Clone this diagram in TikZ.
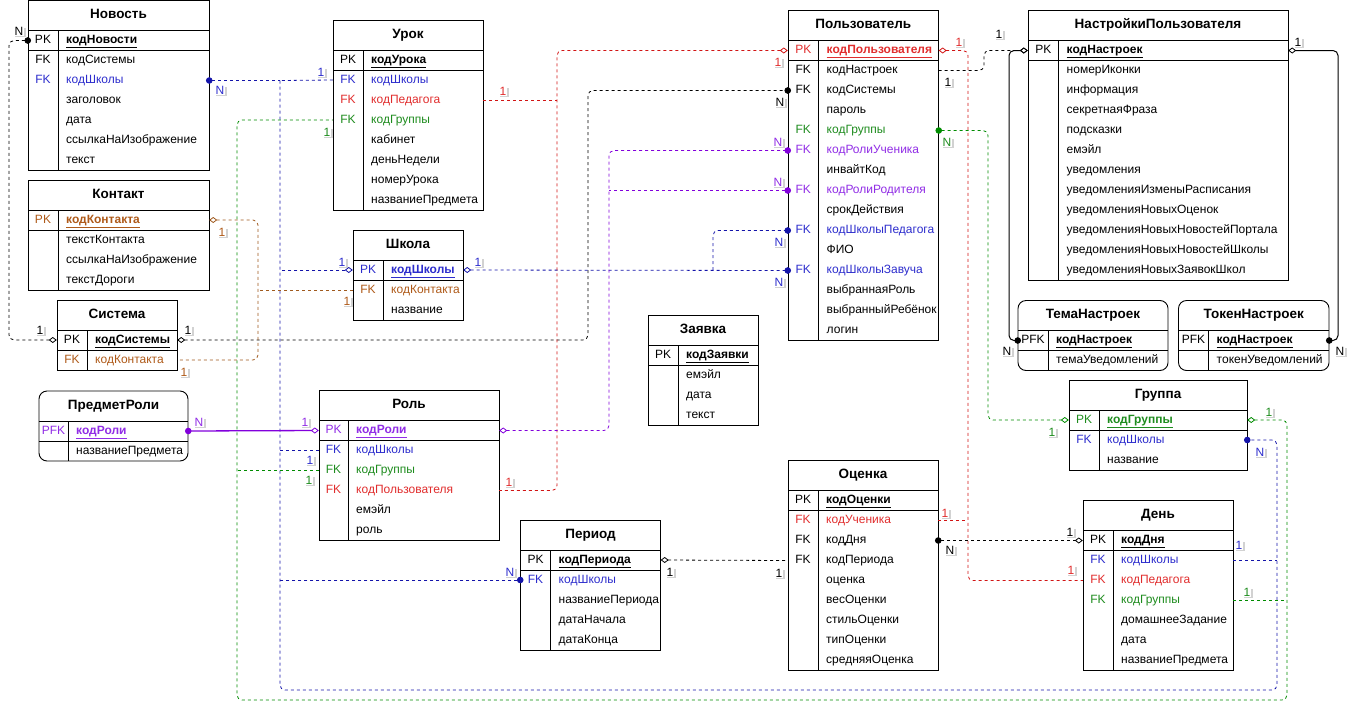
\documentclass[tikz,border=0pt]{standalone}
\usepackage{fontspec}
\setmainfont{Liberation Sans}
\usetikzlibrary{arrows.meta,calc,shadows}

% text colours
\definecolor{cBlueT}{RGB}{45,45,205}
\definecolor{cRedT}{RGB}{225,45,45}
\definecolor{cGreenT}{RGB}{30,140,30}
\definecolor{cPurpleT}{RGB}{145,45,230}
\definecolor{cBrownT}{RGB}{175,90,25}
% connector colours
\definecolor{cBlueL}{RGB}{20,20,170}
\definecolor{cRedL}{RGB}{210,20,20}
\definecolor{cGreenL}{RGB}{0,140,0}
\definecolor{cPurpleL}{RGB}{130,0,220}
\definecolor{cBrownL}{RGB}{160,90,30}

\tikzset{
  erframe/.style={draw=black, line width=0.9pt},
  ertitle/.style={font=\fontsize{13.5}{16}\selectfont\bfseries, inner sep=0pt, text height=9.7pt, text depth=2.8pt},
  errow/.style={inner sep=0pt, minimum height=20pt},
  erkey/.style={font=\fontsize{12}{14}\selectfont, inner sep=0pt, text height=8.6pt, text depth=2.5pt},
  erattr/.style={font=\fontsize{12}{14}\selectfont, inner sep=0pt, anchor=west, text height=8.6pt, text depth=2.5pt},
  rel/.style={line width=0.8pt, dash pattern=on 3pt off 3pt, rounded corners=5pt},
  relK/.style={rel, draw=black},
  relB/.style={rel, draw=cBlueL},
  relR/.style={rel, draw=cRedL},
  relG/.style={rel, draw=cGreenL},
  relP/.style={rel, draw=cPurpleL},
  relO/.style={rel, draw=cBrownL},
  solK/.style={line width=1pt, rounded corners=5pt, draw=black},
  solP/.style={line width=1.3pt, draw=cPurpleL},
  dotdia/.style={arrows={Circle[length=6.5pt]-Diamond[open,length=8pt,width=6pt,line width=0.8pt]}, shorten <=-3.2pt},
  diadot/.style={arrows={Diamond[open,length=8pt,width=6pt,line width=0.8pt]-Circle[length=6.5pt]}, shorten >=-3.2pt},
  diaend/.style={arrows={-Diamond[open,length=8pt,width=6pt,line width=0.8pt]}},
  diastart/.style={arrows={Diamond[open,length=8pt,width=6pt,line width=0.8pt]-}},
  dotstart/.style={arrows={Circle[length=6.5pt]-}, shorten <=-3.2pt},
  dotend/.style={arrows={-Circle[length=6.5pt]}, shorten >=-3.2pt},
  lbl/.style={font=\fontsize{12}{14}\selectfont, inner sep=0.7pt, fill=white,
    drop shadow={shadow xshift=1.5pt, shadow yshift=-1.5pt, opacity=0.35, fill=gray}},
}

% #1 id, #2 left, #3 top, #4 width, #5 key column width, #6 title, #7 corner radius, #8 rows key/name/colour/flag
\newcommand\ertable[8]{%
  \node[ertitle] (#1) at ({#2+#4/2},{#3+15}) {#6};
  \foreach \kk/\nn/\cc/\ff [count=\ii] in {#8} {
    \node[errow, minimum width=#4] (#1-\ii) at ({#2+#4/2},{#3+30+(\ii-1)*20+10}) {};
    \node[erkey, text=\cc] (#1-\ii-k) at ({#2+#5/2},{#3+30+(\ii-1)*20+10}) {\kk};
    \node[erattr, text=\cc] (#1-\ii-a) at ({#2+#5+8},{#3+30+(\ii-1)*20+10})
      {\if p\ff\underline{\textbf{\nn}}\else\nn\fi};
    \xdef\errows{\ii}
  }
  \draw[erframe, rounded corners=#7] (#2,#3) rectangle ({#2+#4},{#3+30+\errows*20});
  \draw[erframe] (#2,{#3+30}) -- ({#2+#4},{#3+30});
  \draw[erframe] (#2,{#3+50}) -- ({#2+#4},{#3+50});
  \draw[erframe] ({#2+#5},{#3+30}) -- ({#2+#5},{#3+30+\errows*20});
}

\begin{document}
\begin{tikzpicture}[x=1pt,y=-1pt]
\fill[white] (0,0) rectangle (1359,720);
\useasboundingbox (0,0) rectangle (1359,720);

% ---------- tables ----------
\ertable{nov}{28}{0.5}{181}{30}{Новость}{0pt}{PK/кодНовости/black/p,
  FK/кодСистемы/black/n,
  FK/кодШколы/cBlueT/n,
  /заголовок/black/n,
  /дата/black/n,
  /ссылкаНаИзображение/black/n,
  /текст/black/n}
\ertable{kon}{28}{180}{181}{30}{Контакт}{0pt}{PK/кодКонтакта/cBrownT/p,
  /текстКонтакта/black/n,
  /ссылкаНаИзображение/black/n,
  /текстДороги/black/n}
\ertable{sys}{57}{300}{120}{30}{Система}{0pt}{PK/кодСистемы/black/p,
  FK/кодКонтакта/cBrownT/n}
\ertable{urok}{333}{20}{150}{30}{Урок}{0pt}{PK/кодУрока/black/p,
  FK/кодШколы/cBlueT/n,
  FK/кодПедагога/cRedT/n,
  FK/кодГруппы/cGreenT/n,
  /кабинет/black/n,
  /деньНедели/black/n,
  /номерУрока/black/n,
  /названиеПредмета/black/n}
\ertable{shk}{353}{230}{110}{30}{Школа}{0pt}{PK/кодШколы/cBlueT/p,
  FK/кодКонтакта/cBrownT/n,
  /название/black/n}
\ertable{pr}{39}{391}{149}{29}{ПредметРоли}{8pt}{PFK/кодРоли/cPurpleT/p,
  /названиеПредмета/black/n}
\ertable{rol}{319}{390.5}{180}{29}{Роль}{0pt}{PK/кодРоли/cPurpleT/p,
  FK/кодШколы/cBlueT/n,
  FK/кодГруппы/cGreenT/n,
  FK/кодПользователя/cRedT/n,
  /емэйл/black/n,
  /роль/black/n}
\ertable{zay}{648}{315.5}{110}{30}{Заявка}{0pt}{PK/кодЗаявки/black/p,
  /емэйл/black/n,
  /дата/black/n,
  /текст/black/n}
\ertable{per}{520.5}{520}{140}{30}{Период}{0pt}{PK/кодПериода/black/p,
  FK/кодШколы/cBlueT/n,
  /названиеПериода/black/n,
  /датаНачала/black/n,
  /датаКонца/black/n}
\ertable{usr}{788}{10.5}{150.5}{30.5}{Пользователь}{0pt}{PK/кодПользователя/cRedT/p,
  FK/кодНастроек/black/n,
  FK/кодСистемы/black/n,
  /пароль/black/n,
  FK/кодГруппы/cGreenT/n,
  FK/кодРолиУченика/cPurpleT/n,
  /инвайтКод/black/n,
  FK/кодРолиРодителя/cPurpleT/n,
  /срокДействия/black/n,
  FK/кодШколыПедагога/cBlueT/n,
  /ФИО/black/n,
  FK/кодШколыЗавуча/cBlueT/n,
  /выбраннаяРоль/black/n,
  /выбранныйРебёнок/black/n,
  /логин/black/n}
\ertable{nas}{1028}{10.5}{260}{30.5}{НастройкиПользователя}{0pt}{PK/кодНастроек/black/p,
  /номерИконки/black/n,
  /информация/black/n,
  /секретнаяФраза/black/n,
  /подсказки/black/n,
  /емэйл/black/n,
  /уведомления/black/n,
  /уведомленияИзменыРасписания/black/n,
  /уведомленияНовыхОценок/black/n,
  /уведомленияНовыхНовостейПортала/black/n,
  /уведомленияНовыхНовостейШколы/black/n,
  /уведомленияНовыхЗаявокШкол/black/n}
\ertable{tem}{1018}{300.5}{150}{30}{ТемаНастроек}{8pt}{PFK/кодНастроек/black/p,
  /темаУведомлений/black/n}
\ertable{tok}{1178.5}{300.5}{150.5}{30}{ТокенНастроек}{8pt}{PFK/кодНастроек/black/p,
  /токенУведомлений/black/n}
\ertable{grp}{1069}{380}{178}{30}{Группа}{0pt}{PK/кодГруппы/cGreenT/p,
  FK/кодШколы/cBlueT/n,
  /название/black/n}
\ertable{ocn}{788}{460.5}{150}{30}{Оценка}{0pt}{PK/кодОценки/black/p,
  FK/кодУченика/cRedT/n,
  FK/кодДня/black/n,
  FK/кодПериода/black/n,
  /оценка/black/n,
  /весОценки/black/n,
  /стильОценки/black/n,
  /типОценки/black/n,
  /средняяОценка/black/n}
\ertable{den}{1083}{500.5}{150}{30}{День}{0pt}{PK/кодДня/black/p,
  FK/кодШколы/cBlueT/n,
  FK/кодПедагога/cRedT/n,
  FK/кодГруппы/cGreenT/n,
  /домашнееЗадание/black/n,
  /дата/black/n,
  /названиеПредмета/black/n}

% ---------- routing columns and rows ----------
\coordinate (kx) at (9,0);
\coordinate (sx) at (588,0);
\coordinate (nx) at (984,0);
\coordinate (tx) at (1009,0);
\coordinate (tkx) at (1338,0);
\coordinate (bx) at (280,0);
\coordinate (bxr) at (1277,0);
\coordinate (bbot) at (0,690);
\coordinate (pbx) at (713,0);
\coordinate (rx) at (557,0);
\coordinate (rxr) at (968,0);
\coordinate (gx) at (237,0);
\coordinate (gxr) at (1287,0);
\coordinate (gbot) at (0,700);
\coordinate (gxm) at (988,0);
\coordinate (px) at (609,0);
\coordinate (brx) at (258,0);

% junction points on shared trunks
\coordinate (jbNov) at (bx |- nov-3.east);
\coordinate (jbShk) at (bx |- shk-1.west);
\coordinate (jbRol) at (bx |- rol-2.west);
\coordinate (jbPer) at (bx |- per-2.west);
\coordinate (jbDen) at (bxr |- den-2.east);
\coordinate (jbPed) at (pbx |- shk-1.east);
\coordinate (jrUrok) at (rx |- urok-3.east);
\coordinate (jrOcn) at (rxr |- ocn-2.east);
\coordinate (jgRol) at (gx |- rol-3.west);
\coordinate (jgDen) at (gxr |- den-4.east);
\coordinate (jpRod) at (px |- usr-8.west);
\coordinate (joShk) at (brx |- shk-2.west);

% ---------- black ----------
\draw[relK, dotdia] (nov-1.west) -| (kx |- sys-1.west) -- (sys-1.west);
\draw[relK, diadot] (sys-1.east) -| (sx |- usr-3.west) -- (usr-3.west);
\draw[relK, diaend] (usr-2.east) -| (nx |- nas-1.west) -- (nas-1.west);
\draw[solK, diadot] (nas-1.west) -| (tx |- tem-1.west) -- (tem-1.west);
\draw[solK, diadot] (nas-1.east) -| (tkx |- tok-1.east) -- (tok-1.east);
\draw[relK, dotdia] (ocn-3.east) -- (den-1.west);
\draw[relK, diastart] (per-1.east) -- (ocn-4.west);

% ---------- blue ----------
\draw[relB, dotstart] (nov-3.east) -- (jbNov);
\draw[relB] (urok-2.west) -- (jbNov);
\draw[relB, dotend] (jbNov) |- (bxr |- bbot) |- (grp-2.east);
\draw[relB, diastart] (shk-1.west) -- (jbShk);
\draw[relB] (rol-2.west) -- (jbRol);
\draw[relB, dotstart] (per-2.west) -- (jbPer);
\draw[relB] (den-2.east) -- (jbDen);
\draw[relB, diadot] (shk-1.east) -- (usr-12.west);
\draw[relB, dotend] (jbPed) |- (usr-10.west);

% ---------- red ----------
\draw[relR, diastart] (usr-1.west) -| (rx |- rol-4.east) -- (rol-4.east);
\draw[relR] (urok-3.east) -- (jrUrok);
\draw[relR, diastart] (usr-1.east) -| (rxr |- den-3.west) -- (den-3.west);
\draw[relR] (ocn-2.east) -- (jrOcn);

% ---------- green ----------
\draw[relG, dotdia] (usr-5.east) -| (gxm |- grp-1.west) -- (grp-1.west);
\draw[relG, diastart] (grp-1.east) -| (gxr |- gbot) -| (gx |- urok-4.west) -- (urok-4.west);
\draw[relG] (den-4.east) -- (jgDen);
\draw[relG] (rol-3.west) -- (jgRol);

% ---------- purple ----------
\draw[solP, dotdia] (pr-1.east) -- (rol-1.west);
\draw[relP, diadot] (rol-1.east) -| (px |- usr-6.west) -- (usr-6.west);
\draw[relP, dotstart] (usr-8.west) -- (jpRod);

% ---------- brown ----------
\draw[relO, diastart] (kon-1.east) -| (brx |- sys-2.east) -- (sys-2.east);
\draw[relO] (shk-2.west) -- (joShk);

% ---------- cardinality labels ----------
\foreach \lx/\ly/\lt/\lc [count=\li] in {
  19/31/N/black, 40/330/1/black, 188/330/1/black, 780/102/N/black,
  948/82/1/black, 999/34/1/black, 1298/42/1/black, 1007/351/N/black,
  1340/351/N/black, 670/572/1/black, 779/573/1/black, 950/550/N/black,
  1070/532/1/black,
  220/90/N/cBlueT, 321/72/1/cBlueT, 342/262/1/cBlueT, 478/262/1/cBlueT,
  310/460/1/cBlueT, 510/572/N/cBlueT, 779/242/N/cBlueT, 779/282/N/cBlueT,
  1260/452/N/cBlueT, 1239/545/1/cBlueT,
  503/91/1/cRedT, 778/62/1/cRedT, 959/42/1/cRedT, 509/482/1/cRedT,
  945/513/1/cRedT, 1071/570/1/cRedT,
  327/132/1/cGreenT, 947/142/N/cGreenT, 1052/432/1/cGreenT, 1269/412/1/cGreenT,
  309/480/1/cGreenT, 1247/592/1/cGreenT,
  199/422/N/cPurpleT, 305/422/1/cPurpleT, 778/142/N/cPurpleT, 778/182/N/cPurpleT,
  222/232/1/cBrownT, 184/372/1/cBrownT, 347/301/1/cBrownT}
  \node[lbl, text=\lc] (lab\li) at (\lx,\ly) {\lt};
\end{tikzpicture}
\end{document}
